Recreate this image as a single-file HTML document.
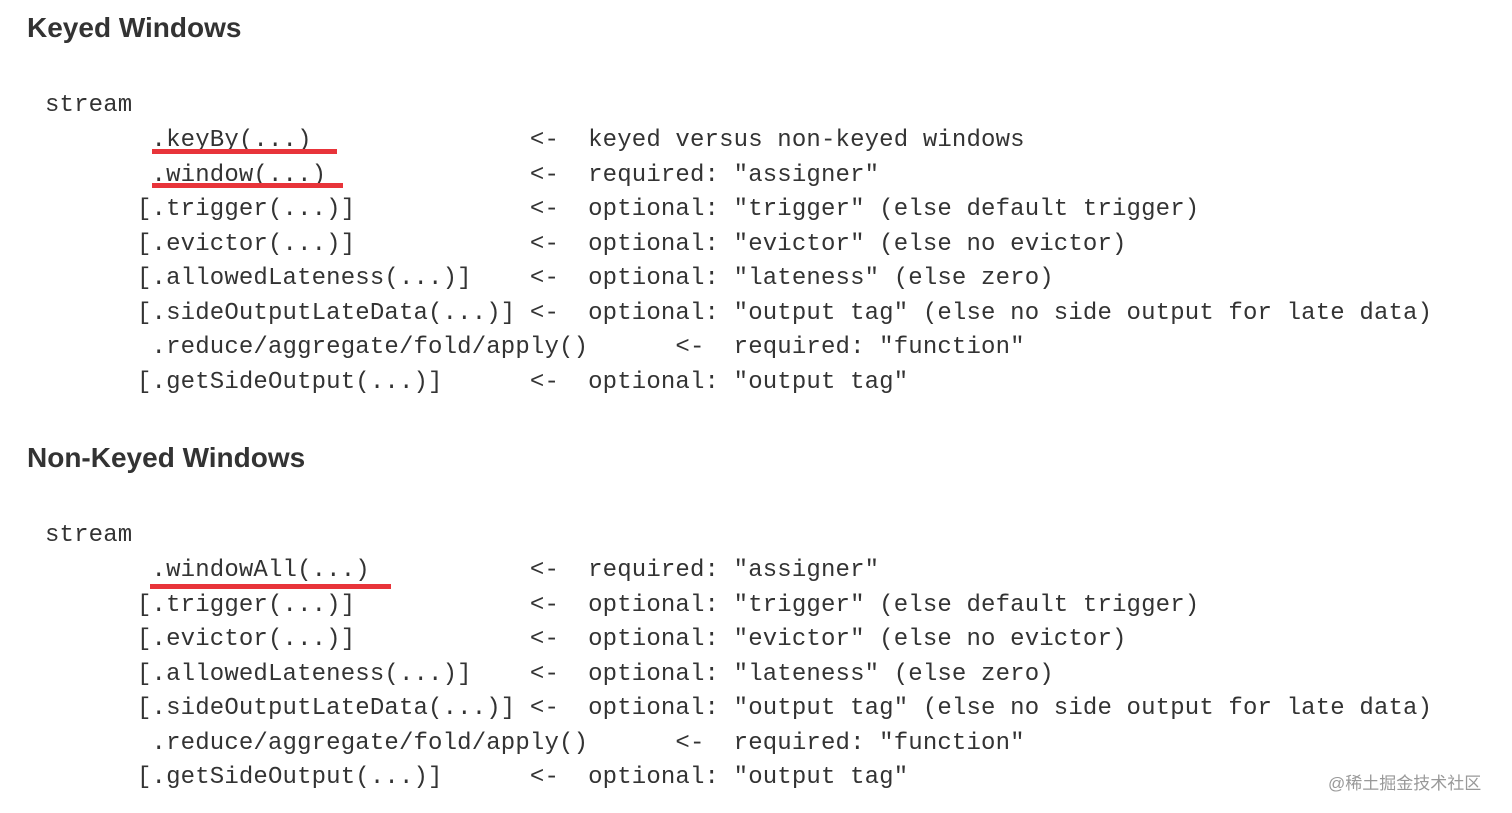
<!DOCTYPE html>
<html><head><meta charset="utf-8"><style>
body{margin:0;width:1512px;height:813px;background:#fff;position:relative;overflow:hidden;font-family:"Liberation Sans",sans-serif}
h2{position:absolute;left:27px;margin:0;font-size:28px;font-weight:bold;color:#333;line-height:32px}
pre{position:absolute;margin:0;font-family:"Liberation Mono",monospace;font-size:24px;line-height:34.5px;letter-spacing:0.15px;color:#333}
.u{position:absolute;height:5px;background:#e8343a}
.wm{position:absolute;left:1328px;top:769px;font-size:17px;color:#999;font-family:"Liberation Sans","Noto Sans CJK SC",sans-serif}
</style></head><body>
<h2 style="top:12px">Keyed Windows</h2>
<pre style="left:45px;top:89px">stream</pre>
<pre style="left:137px;top:124px"> .keyBy(...)               &lt;-  keyed versus non-keyed windows
 .window(...)              &lt;-  required: "assigner"
[.trigger(...)]            &lt;-  optional: "trigger" (else default trigger)
[.evictor(...)]            &lt;-  optional: "evictor" (else no evictor)
[.allowedLateness(...)]    &lt;-  optional: "lateness" (else zero)
[.sideOutputLateData(...)] &lt;-  optional: "output tag" (else no side output for late data)
 .reduce/aggregate/fold/apply()      &lt;-  required: "function"
[.getSideOutput(...)]      &lt;-  optional: "output tag"</pre>
<div class="u" style="left:152px;top:149px;width:185px"></div>
<div class="u" style="left:152px;top:183px;width:191px"></div>
<h2 style="top:442px">Non-Keyed Windows</h2>
<pre style="left:45px;top:519px">stream</pre>
<pre style="left:137px;top:554px"> .windowAll(...)           &lt;-  required: "assigner"
[.trigger(...)]            &lt;-  optional: "trigger" (else default trigger)
[.evictor(...)]            &lt;-  optional: "evictor" (else no evictor)
[.allowedLateness(...)]    &lt;-  optional: "lateness" (else zero)
[.sideOutputLateData(...)] &lt;-  optional: "output tag" (else no side output for late data)
 .reduce/aggregate/fold/apply()      &lt;-  required: "function"
[.getSideOutput(...)]      &lt;-  optional: "output tag"</pre>
<div class="u" style="left:150px;top:584px;width:241px"></div>
<div class="wm">@稀土掘金技术社区</div>
</body></html>
